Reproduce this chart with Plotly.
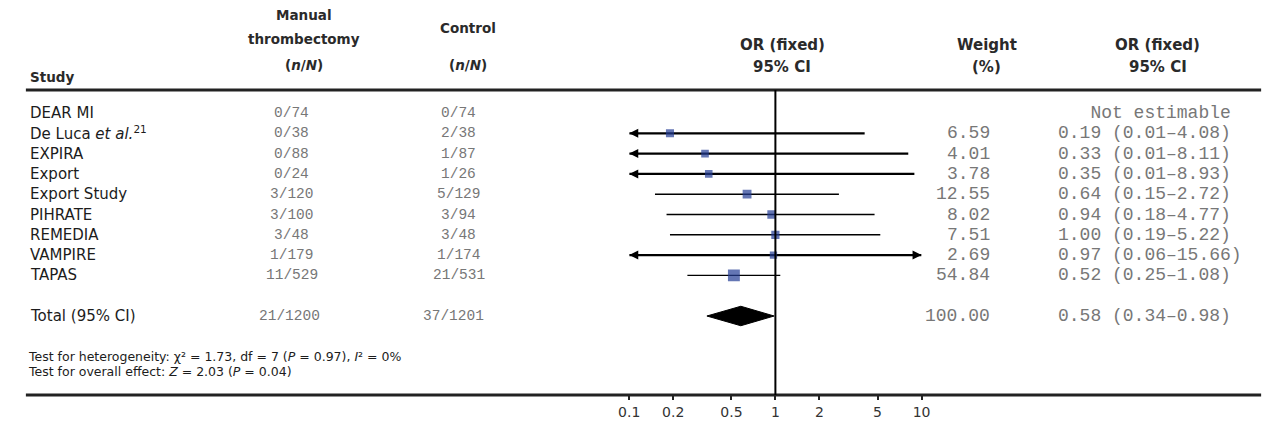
import plotly.graph_objects as go

# Target picture is 1278x426; the page body adds an 8px margin, so the
# figure is drawn 8px smaller and every layout pixel is shifted by OFF.
PAGE_W, PAGE_H = 1278, 426
OFF = 8
W, H = PAGE_W - OFF, PAGE_H - OFF

# ---------------- data ----------------
studies = ["DEAR MI", "De Luca <i>et al.</i><sup>21</sup>", "EXPIRA", "Export", "Export Study",
           "PIHRATE", "REMEDIA", "VAMPIRE", "TAPAS"]
mt_events = [0, 0, 0, 0, 3, 3, 3, 1, 11]
mt_total = [74, 38, 88, 24, 120, 100, 48, 179, 529]
ctl_events = [0, 2, 1, 1, 5, 3, 3, 1, 21]
ctl_total = [74, 38, 87, 26, 129, 94, 48, 174, 531]
weights = [None, 6.59, 4.01, 3.78, 12.55, 8.02, 7.51, 2.69, 54.84]
or_est = [None, 0.19, 0.33, 0.35, 0.64, 0.94, 1.00, 0.97, 0.52]
ci_low = [None, 0.01, 0.01, 0.01, 0.15, 0.18, 0.19, 0.06, 0.25]
ci_high = [None, 4.08, 8.11, 8.93, 2.72, 4.77, 5.22, 15.66, 1.08]

total_label = "Total (95% CI)"
total_mt = [21, 1200]
total_ctl = [37, 1201]
total_weight = 100.00
total_or, total_lo, total_hi = 0.58, 0.34, 0.98

axis_ticks = [0.1, 0.2, 0.5, 1, 2, 5, 10]
axis_ticktext = ["0.1", "0.2", "0.5", "1", "2", "5", "10"]
axis_min, axis_max = 0.1, 10

het_text = "Test for heterogeneity: χ² = 1.73, df = 7 (<i>P</i> = 0.97), <i>I</i>² = 0%"
eff_text = "Test for overall effect: <i>Z</i> = 2.03 (<i>P</i> = 0.04)"

# ---------------- layout helpers (page pixels) ----------------
ROW0, ROWH = 113.0, 20.3          # page-pixel y of first row, row pitch
AXIS_Y = 395                      # page-pixel y of bottom axis rule
HEAD_Y = 90                       # page-pixel y of header rule
RULE_X0, RULE_X1 = 15, 1270       # horizontal extent of the rules
TOTAL_ROW = 10.0


def px(x):
    return (x - OFF) / W


def py(y):
    return 1 - (y - OFF) / H


SANS = "DejaVu Sans"
MONO = "Liberation Mono"
TXT = "#1c1c1c"
HEAD = "#2a2a2a"
GREY = "#777777"
BLUE = "#223c94"

fig = go.Figure()
rows = list(range(len(studies)))

# CI lines (clipped to axis range), thicker for clipped ones
for thick in (False, True):
    xs, ys = [], []
    for i in rows:
        if or_est[i] is None:
            continue
        clipped = ci_low[i] < axis_min or ci_high[i] > axis_max
        if clipped != thick:
            continue
        xs += [max(ci_low[i], axis_min), min(ci_high[i], axis_max), None]
        ys += [i, i, None]
    fig.add_trace(go.Scatter(x=xs, y=ys, mode="lines",
                             line=dict(color="black", width=2.2 if thick else 1.4),
                             hoverinfo="skip"))

# arrow heads for clipped intervals
al_x, al_y, ar_x, ar_y = [], [], [], []
for i in rows:
    if or_est[i] is None:
        continue
    if ci_low[i] < axis_min:
        al_x.append(axis_min); al_y.append(i)
    if ci_high[i] > axis_max:
        ar_x.append(axis_max); ar_y.append(i)
fig.add_trace(go.Scatter(x=al_x, y=al_y, mode="markers",
                         marker=dict(symbol="arrow-left", size=9, color="black",
                                     line=dict(width=0))))
fig.add_trace(go.Scatter(x=ar_x, y=ar_y, mode="markers",
                         marker=dict(symbol="arrow-right", size=9, color="black",
                                     line=dict(width=0))))

# weighted squares
sq_x = [or_est[i] for i in rows if or_est[i] is not None]
sq_y = [i for i in rows if or_est[i] is not None]
sq_s = [6 + 0.8 * weights[i] ** 0.5 for i in rows if or_est[i] is not None]
fig.add_trace(go.Scatter(x=sq_x, y=sq_y, mode="markers",
                         marker=dict(symbol="square", size=sq_s, color=BLUE,
                                     line=dict(width=0))))

# pooled diamond
dh = 0.48
fig.add_trace(go.Scatter(x=[total_lo, total_or, total_hi, total_or, total_lo],
                         y=[TOTAL_ROW, TOTAL_ROW - dh, TOTAL_ROW, TOTAL_ROW + dh, TOTAL_ROW],
                         mode="lines", fill="toself", fillcolor="black",
                         line=dict(color="black", width=1)))

ann = []


def add_text(x, y, text, size, color=TXT, family=SANS, anchor="left", yref="y"):
    ann.append(dict(x=px(x), xref="paper", y=y if yref == "y" else py(y), yref=yref,
                    text=text, showarrow=False, xanchor=anchor, yanchor="middle",
                    font=dict(family=family, size=size, color=color)))


# headers
HL, HR = 13.5, 15
add_text(17, 77, "<b>Study</b>", 13.5, HEAD, yref="paper")
add_text(298, 15, "<b>Manual</b>", HL, HEAD, anchor="center", yref="paper")
add_text(298, 39, "<b>thrombectomy</b>", HL, HEAD, anchor="center", yref="paper")
add_text(298, 65, "<b>(<i>n</i>/<i>N</i>)</b>", HL, HEAD, anchor="center", yref="paper")
add_text(464, 28, "<b>Control</b>", HL, HEAD, anchor="center", yref="paper")
add_text(464, 65, "<b>(<i>n</i>/<i>N</i>)</b>", HL, HEAD, anchor="center", yref="paper")
add_text(784, 45, "<b>OR (fixed)</b>", HR, HEAD, anchor="center", yref="paper")
add_text(783, 67, "<b>95% CI</b>", HR, HEAD, anchor="center", yref="paper")
add_text(991, 45, "<b>Weight</b>", HR, HEAD, anchor="center", yref="paper")
add_text(991, 67, "<b>(%)</b>", HR, HEAD, anchor="center", yref="paper")
add_text(1165, 45, "<b>OR (fixed)</b>", HR, HEAD, anchor="center", yref="paper")
add_text(1165, 67, "<b>95% CI</b>", HR, HEAD, anchor="center", yref="paper")

# study rows
ML, MR = 14.5, 18
for i in rows:
    add_text(17, i, studies[i], 15)
    add_text(285, i, f"{mt_events[i]}/{mt_total[i]}", ML, GREY, MONO, "center")
    add_text(455, i, f"{ctl_events[i]}/{ctl_total[i]}", ML, GREY, MONO, "center")
    if weights[i] is not None:
        add_text(997, i, f"{weights[i]:.2f}", MR, GREY, MONO, "right")
        add_text(1062, i, f"{or_est[i]:.2f} ({ci_low[i]:.2f}–{ci_high[i]:.2f})", MR, GREY, MONO)
    else:
        add_text(1062, i, "\u00a0\u00a0\u00a0Not estimable", MR, GREY, MONO)

# total row
add_text(17, TOTAL_ROW, total_label, 15)
add_text(283, TOTAL_ROW, f"{total_mt[0]}/{total_mt[1]}", ML, GREY, MONO, "center")
add_text(449, TOTAL_ROW, f"{total_ctl[0]}/{total_ctl[1]}", ML, GREY, MONO, "center")
add_text(997, TOTAL_ROW, f"{total_weight:.2f}", MR, GREY, MONO, "right")
add_text(1062, TOTAL_ROW, f"{total_or:.2f} ({total_lo:.2f}–{total_hi:.2f})", MR, GREY, MONO)

# footnotes
add_text(15, 356, het_text, 12.5, yref="paper")
add_text(15, 371, eff_text, 12.5, yref="paper")

shapes = [
    dict(type="line", xref="paper", yref="paper", x0=px(RULE_X0), x1=px(RULE_X1),
         y0=py(HEAD_Y), y1=py(HEAD_Y), line=dict(color="#222", width=3)),
    dict(type="line", xref="paper", yref="paper", x0=px(RULE_X0), x1=px(RULE_X1),
         y0=py(AXIS_Y), y1=py(AXIS_Y), line=dict(color="#222", width=3)),
    dict(type="line", xref="x", yref="paper", x0=1, x1=1, y0=py(AXIS_Y), y1=py(HEAD_Y),
         line=dict(color="black", width=2)),
]

fig.update_layout(
    width=W, height=H,
    margin=dict(l=0, r=0, t=0, b=0),
    paper_bgcolor="white", plot_bgcolor="white",
    showlegend=False,
    annotations=ann, shapes=shapes,
    xaxis=dict(type="log", range=[-1, 1], domain=[px(628), px(925)],
               tickvals=axis_ticks, ticktext=axis_ticktext,
               ticks="outside", ticklen=4, tickwidth=1.5, tickcolor="#222",
               showgrid=False, zeroline=False, showline=False,
               tickfont=dict(family=SANS, size=14, color="#333")),
    yaxis=dict(domain=[py(AXIS_Y), 1],
               range=[(AXIS_Y - ROW0) / ROWH, (OFF - ROW0) / ROWH],
               visible=False, showgrid=False, zeroline=False),
)

fig.write_html("out.html")
